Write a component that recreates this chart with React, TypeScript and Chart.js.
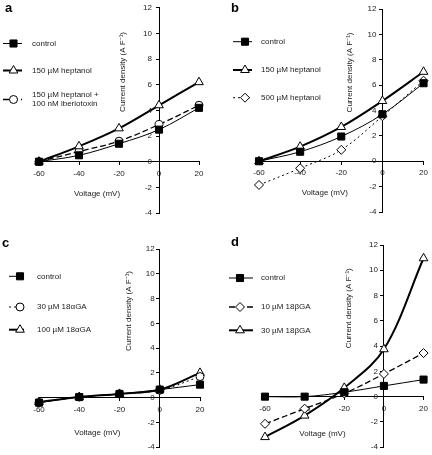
import React, { useEffect, useRef } from 'react';
import { Chart, registerables } from 'chart.js';

Chart.register(...registerables);

// ---------- data ----------
const voltage = [-60, -40, -20, 0, 20];

const aControl = [0, 0.5, 1.4, 2.5, 4.2];
const aHeptanol150 = [0, 1.2, 2.6, 4.4, 6.2];
const aHeptanolIbtx = [0, 0.8, 1.6, 2.9, 4.4];

const bControl = [0, 0.75, 1.95, 3.7, 6.15];
const bHeptanol150 = [0, 1.15, 2.7, 4.75, 7.05];
const bHeptanol500 = [-1.87, -0.55, 0.9, 3.55, 6.35];

const cControl = [-0.4, 0.05, 0.3, 0.65, 1.05];
const cAlphaGA30 = [-0.4, 0.05, 0.3, 0.6, 1.7];
const cAlphaGA100 = [-0.35, 0.05, 0.3, 0.65, 2.0];

const dControl = [0, 0, 0.35, 0.85, 1.35];
const dBetaGA10 = [-2.15, -0.95, 0.25, 1.8, 3.45];
const dBetaGA30 = [-3.2, -1.5, 0.7, 3.75, 10.95];

const aLabels = ['control', '150 µM heptanol', '150 µM heptanol +\n100 nM iberiotoxin'];
const bLabels = ['control', '150 µM heptanol', '500 µM heptanol'];
const cLabels = ['control', '30 µM 18αGA', '100 µM 18αGA'];
const dLabels = ['control', '10 µM 18βGA', '30 µM 18βGA'];

const xTitle = 'Voltage (mV)';
const yTitle = 'Current density (A F⁻¹)';

// ---------- styles ----------
type Shape = 'rect' | 'triangle' | 'circle' | 'rectRot';
interface SeriesStyle { width: number; dash: number[]; shape: Shape; filled: boolean; radius: number; }

const S_CONTROL: SeriesStyle = { width: 1, dash: [], shape: 'rect', filled: true, radius: 5 };
const S_THICK_TRI: SeriesStyle = { width: 2, dash: [], shape: 'triangle', filled: false, radius: 5 };
const S_DASH_CIRCLE: SeriesStyle = { width: 1.3, dash: [6, 3], shape: 'circle', filled: false, radius: 4 };
const S_DOT_DIAMOND: SeriesStyle = { width: 1, dash: [2, 3], shape: 'rectRot', filled: false, radius: 4.5 };
const S_DOT_CIRCLE: SeriesStyle = { width: 1, dash: [2, 3], shape: 'circle', filled: false, radius: 4 };
const S_DASH_DIAMOND: SeriesStyle = { width: 1.3, dash: [6, 3], shape: 'rectRot', filled: false, radius: 4.5 };

const FONT = '"Liberation Sans", Arial, sans-serif';

interface PanelCfg {
  letter: string;
  left: number; top: number; width: number; height: number;
  pad: { left: number; right: number; top: number; bottom: number };
  series: number[][];
  labels: string[];
  styles: SeriesStyle[];
  letterPos: [number, number];
  xTitleAt: [number, number];
  yTitleOffset: number;
  yLabelGap: number;
  legend: { x1: number; x2: number; mx: number; tx: number; ys: number[] };
}

const panels: PanelCfg[] = [
  {
    letter: 'a', left: 0, top: 0, width: 216, height: 228,
    pad: { left: 39, right: 17, top: 5, bottom: 15 },
    series: [aControl, aHeptanol150, aHeptanolIbtx], labels: aLabels,
    styles: [S_CONTROL, S_THICK_TRI, S_DASH_CIRCLE],
    letterPos: [5, 8], xTitleAt: [-31, -2.5], yTitleOffset: 36, yLabelGap: 7,
    legend: { x1: 3, x2: 22, mx: 13.5, tx: 32, ys: [43.5, 70.5, 99.5] },
  },
  {
    letter: 'b', left: 216, top: 0, width: 216, height: 228,
    pad: { left: 43, right: 7, top: 9, bottom: 16 },
    series: [bControl, bHeptanol150, bHeptanol500], labels: bLabels,
    styles: [S_CONTROL, S_THICK_TRI, S_DOT_DIAMOND],
    letterPos: [15, 8], xTitleAt: [-28, -2.5], yTitleOffset: 33, yLabelGap: 6,
    legend: { x1: 17, x2: 36, mx: 29, tx: 45, ys: [41.7, 70, 97.7] },
  },
  {
    letter: 'c', left: 0, top: 228, width: 216, height: 227,
    pad: { left: 39, right: 16, top: 21, bottom: 2 },
    series: [cControl, cAlphaGA30, cAlphaGA100], labels: cLabels,
    styles: [S_CONTROL, S_DOT_CIRCLE, S_THICK_TRI],
    letterPos: [2, 15], xTitleAt: [-31, -2.85], yTitleOffset: 31, yLabelGap: 5,
    legend: { x1: 9, x2: 24, mx: 20, tx: 37, ys: [48.3, 79, 101.7] },
  },
  {
    letter: 'd', left: 216, top: 228, width: 216, height: 227,
    pad: { left: 49, right: 7, top: 17, bottom: 2 },
    series: [dControl, dBetaGA10, dBetaGA30], labels: dLabels,
    styles: [S_CONTROL, S_DASH_DIAMOND, S_THICK_TRI],
    letterPos: [15, 14], xTitleAt: [-31, -2.9], yTitleOffset: 35, yLabelGap: 6,
    legend: { x1: 13, x2: 37, mx: 24, tx: 45, ys: [50, 79, 102.3] },
  },
];

function drawMarker(ctx: CanvasRenderingContext2D, st: SeriesStyle, x: number, y: number) {
  const r = st.radius;
  ctx.beginPath();
  if (st.shape === 'rect') {
    const s = Math.SQRT1_2 * r;
    ctx.rect(x - s, y - s, 2 * s, 2 * s);
  } else if (st.shape === 'triangle') {
    let rad = 0;
    ctx.moveTo(x + Math.sin(rad) * r, y - Math.cos(rad) * r);
    rad += (2 * Math.PI) / 3;
    ctx.lineTo(x + Math.sin(rad) * r, y - Math.cos(rad) * r);
    rad += (2 * Math.PI) / 3;
    ctx.lineTo(x + Math.sin(rad) * r, y - Math.cos(rad) * r);
    ctx.closePath();
  } else if (st.shape === 'circle') {
    ctx.arc(x, y, r, 0, Math.PI * 2);
  } else {
    ctx.moveTo(x - r, y);
    ctx.lineTo(x, y - r);
    ctx.lineTo(x + r, y);
    ctx.lineTo(x, y + r);
    ctx.closePath();
  }
  ctx.setLineDash([]);
  ctx.fillStyle = st.filled ? '#000' : '#fff';
  ctx.fill();
  ctx.lineWidth = 1;
  ctx.strokeStyle = '#000';
  ctx.stroke();
}

const decorPlugin = {
  id: 'decor',
  afterDatasetsDraw(chart: any, _args: any, opts: any) {
    const cfg: PanelCfg = opts.cfg;
    if (!cfg) return;
    const ctx: CanvasRenderingContext2D = chart.ctx;
    const xs = chart.scales.x;
    const ys = chart.scales.y;
    ctx.save();
    ctx.fillStyle = '#000';
    ctx.textBaseline = 'middle';

    // panel letter
    ctx.font = `bold 13px ${FONT}`;
    ctx.textAlign = 'left';
    ctx.fillText(cfg.letter, cfg.letterPos[0], cfg.letterPos[1]);

    // y tick labels (left of the crossing y axis)
    ctx.font = `8px ${FONT}`;
    ctx.fillStyle = '#222';
    ctx.textAlign = 'right';
    const axisX = xs.getPixelForValue(0);
    ys.ticks.forEach((t: any) => {
      ctx.fillText(String(t.value), axisX - cfg.yLabelGap, ys.getPixelForValue(t.value));
    });

    // axis titles
    ctx.textAlign = 'center';
    ctx.fillText(xTitle, xs.getPixelForValue(cfg.xTitleAt[0]), ys.getPixelForValue(cfg.xTitleAt[1]));
    ctx.save();
    ctx.translate(axisX - cfg.yTitleOffset, ys.getPixelForValue(7));
    ctx.rotate(-Math.PI / 2);
    ctx.fillText(yTitle, 0, 0);
    ctx.restore();

    // legend
    const lg = cfg.legend;
    cfg.styles.forEach((st, i) => {
      const y = lg.ys[i];
      ctx.beginPath();
      ctx.setLineDash(st.dash);
      ctx.lineWidth = st.width;
      ctx.strokeStyle = '#000';
      ctx.moveTo(lg.x1, y);
      ctx.lineTo(lg.x2, y);
      ctx.stroke();
      drawMarker(ctx, st, lg.mx, y);
      const lines = cfg.labels[i].split('\n');
      ctx.fillStyle = '#222';
      ctx.textAlign = 'left';
      ctx.font = `8px ${FONT}`;
      const lh = 9;
      const y0 = y - ((lines.length - 1) * lh) / 2;
      lines.forEach((ln, k) => ctx.fillText(ln, lg.tx, y0 + k * lh));
    });
    ctx.restore();
  },
};

function Panel({ cfg }: { cfg: PanelCfg }) {
  const ref = useRef<HTMLCanvasElement>(null);
  useEffect(() => {
    if (!ref.current) return;
    const datasets = cfg.series.map((vals, i) => {
      const st = cfg.styles[i];
      return {
        label: cfg.labels[i],
        data: voltage.map((v, k) => ({ x: v, y: vals[k] })),
        borderColor: '#000',
        borderWidth: st.width,
        borderDash: st.dash,
        tension: 0.35,
        fill: false,
        pointStyle: st.shape,
        pointRadius: st.radius,
        pointBorderWidth: 1,
        pointBorderColor: '#000',
        pointBackgroundColor: st.filled ? '#000' : '#fff',
        clip: false as any,
      };
    });
    const tickFont = { family: FONT, size: 8 };
    const chart = new Chart(ref.current, {
      type: 'line',
      data: { datasets },
      plugins: [decorPlugin],
      options: {
        animation: false,
        responsive: false,
        devicePixelRatio: 1,
        layout: { padding: cfg.pad },
        plugins: {
          legend: { display: false },
          tooltip: { enabled: false },
          decor: { cfg },
        } as any,
        scales: {
          x: {
            type: 'linear',
            min: -60,
            max: 20,
            position: { y: 0 } as any,
            ticks: { stepSize: 20, font: tickFont, color: '#222', padding: 4, maxRotation: 0 },
            grid: { display: true, drawOnChartArea: false, drawTicks: true, tickLength: 3, color: '#000' },
            border: { display: true, color: '#000', width: 1 },
          },
          y: {
            type: 'linear',
            min: -4,
            max: 12,
            position: { x: 0 } as any,
            ticks: { stepSize: 2, font: tickFont, color: 'rgba(0,0,0,0)', padding: 3 },
            grid: { display: true, drawOnChartArea: false, drawTicks: true, tickLength: 3, color: '#000' },
            border: { display: true, color: '#000', width: 1 },
          },
        },
      },
    });
    return () => chart.destroy();
  }, [cfg]);
  return (
    <canvas
      ref={ref}
      width={cfg.width}
      height={cfg.height}
      style={{ position: 'absolute', left: cfg.left, top: cfg.top, width: cfg.width, height: cfg.height }}
    />
  );
}

export default function App() {
  return (
    <div style={{ position: 'fixed', left: 0, top: 0, width: 432, height: 455, background: '#fff', overflow: 'hidden' }}>
      {panels.map((p) => (
        <Panel key={p.letter} cfg={p} />
      ))}
    </div>
  );
}
